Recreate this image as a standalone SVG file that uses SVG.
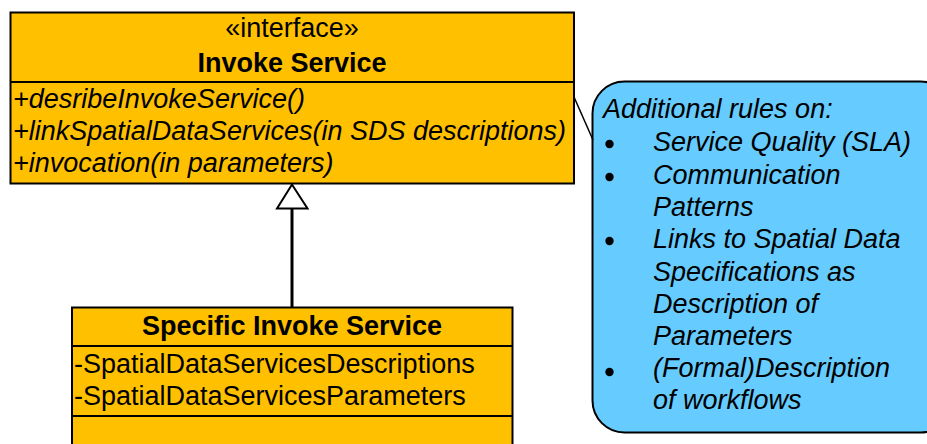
<svg xmlns="http://www.w3.org/2000/svg" width="927" height="444" viewBox="0 0 927 444">
<style>
.box{fill:#FFC000;stroke:#000;stroke-width:2}
.div{stroke:#000;stroke-width:2}
.t{font-family:"Liberation Sans",Arial,sans-serif;font-size:27px;fill:#000}
.b{font-weight:bold}
.i{font-style:italic}
.c{text-anchor:middle}
.note{fill:#66CCFF;stroke:#000;stroke-width:2}
</style>
<rect width="927" height="444" fill="#fff"/>
<g id="invoke-service">
<rect class="box" x="10.5" y="12.5" width="563.5" height="171"/>
<line class="div" x1="10.5" y1="82" x2="574" y2="82"/>
<text class="t c" x="292" y="37">«interface»</text>
<text class="t b c" x="292" y="72">Invoke Service</text>
<text class="t i" x="13" y="108">+desribeInvokeService()</text>
<text class="t i" x="13" y="140">+linkSpatialDataServices(in SDS descriptions)</text>
<text class="t i" x="13" y="172">+invocation(in parameters)</text>
</g>
<g id="specific-invoke-service">
<rect class="box" x="72" y="307.5" width="440.5" height="160"/>
<line class="div" x1="72" y1="346" x2="512.5" y2="346"/>
<line class="div" x1="72" y1="416" x2="512.5" y2="416"/>
<text class="t b c" x="292" y="335">Specific Invoke Service</text>
<text class="t" x="74" y="373">-SpatialDataServicesDescriptions</text>
<text class="t" x="74" y="405">-SpatialDataServicesParameters</text>
</g>
<g id="note">
<rect class="note" x="592.5" y="81.5" width="360" height="351" rx="32" ry="32"/>
<text class="t i" x="603" y="118">Additional rules on:</text>
<circle cx="609.5" cy="144" r="4.2"/>
<circle cx="609.5" cy="177" r="4.2"/>
<circle cx="609.5" cy="241" r="4.2"/>
<circle cx="609.5" cy="372" r="4.2"/>
<text class="t i" x="653" y="151">Service Quality (SLA)</text>
<text class="t i" x="653" y="183.5">Communication</text>
<text class="t i" x="653" y="215.5">Patterns</text>
<text class="t i" x="653" y="248">Links to Spatial Data</text>
<text class="t i" x="653" y="280.5">Specifications as</text>
<text class="t i" x="653" y="312.5">Description of</text>
<text class="t i" x="653" y="344.5">Parameters</text>
<text class="t i" x="653" y="376.5">(Formal)Description</text>
<text class="t i" x="653" y="409">of workflows</text>
</g>
<g id="connectors">
<line x1="292" y1="307" x2="292" y2="208" stroke="#000" stroke-width="3"/>
<polygon points="292,184.5 277,208.5 307.5,208.5" fill="#fff" stroke="#000" stroke-width="2"/>
<line x1="574" y1="97" x2="593" y2="140" stroke="#000" stroke-width="1.5"/>
</g>
</svg>
